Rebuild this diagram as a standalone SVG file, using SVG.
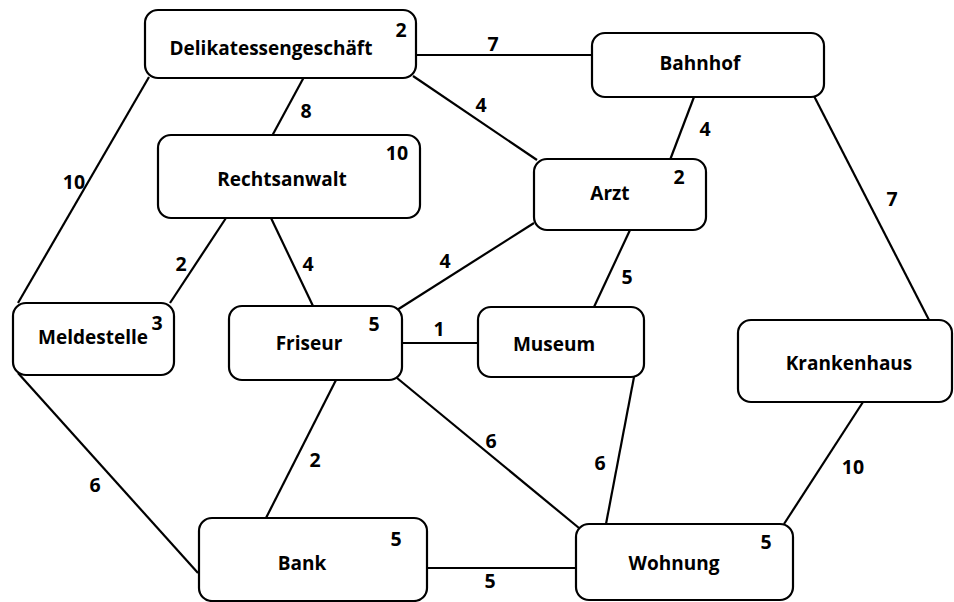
<svg xmlns="http://www.w3.org/2000/svg" width="954" height="602" viewBox="0 0 954 602">
<style>
.box{fill:#fff;stroke:#000;stroke-width:2.2}
.lbl{font-family:"Open Sans","Liberation Sans",sans-serif;font-weight:bold;font-size:19px;text-anchor:middle;dominant-baseline:central;fill:#000}
.num{font-family:"Open Sans","Liberation Sans",sans-serif;font-weight:bold;font-size:19.5px;text-anchor:middle;dominant-baseline:central;fill:#000}
#edges line{stroke:#000;stroke-width:2.2}
</style>
<rect width="954" height="602" fill="#fff"/>
<g id="edges">
<line x1="416" y1="55" x2="592" y2="55"/>
<line x1="413" y1="76" x2="537" y2="160"/>
<line x1="304" y1="77" x2="272" y2="136"/>
<line x1="149" y1="77" x2="18" y2="303"/>
<line x1="694" y1="97" x2="670" y2="160"/>
<line x1="814" y1="96" x2="929" y2="320"/>
<line x1="630" y1="230" x2="594" y2="307"/>
<line x1="534" y1="223" x2="397" y2="310"/>
<line x1="226" y1="218" x2="170" y2="303"/>
<line x1="271" y1="218" x2="313" y2="306"/>
<line x1="402" y1="343" x2="478" y2="343"/>
<line x1="397" y1="378" x2="579" y2="528"/>
<line x1="336" y1="380" x2="266" y2="518"/>
<line x1="18" y1="373" x2="198" y2="573"/>
<line x1="634" y1="377" x2="606" y2="524"/>
<line x1="863" y1="402" x2="784" y2="524"/>
<line x1="427" y1="568" x2="576" y2="568"/>
<text class="num" x="493" y="43">7</text>
<text class="num" x="481" y="104">4</text>
<text class="num" x="306" y="110">8</text>
<text class="num" x="74" y="181">10</text>
<text class="num" x="705" y="128">4</text>
<text class="num" x="892" y="198">7</text>
<text class="num" x="627" y="276">5</text>
<text class="num" x="445" y="260">4</text>
<text class="num" x="181" y="263">2</text>
<text class="num" x="308" y="263">4</text>
<text class="num" x="439" y="328">1</text>
<text class="num" x="491" y="440">6</text>
<text class="num" x="315" y="459">2</text>
<text class="num" x="95" y="484">6</text>
<text class="num" x="600" y="462">6</text>
<text class="num" x="853" y="466">10</text>
<text class="num" x="490" y="580">5</text>
</g>
<g id="deli">
<rect class="box" x="145" y="10" width="271" height="68" rx="13"/>
<text class="lbl" x="271" y="48">Delikatessengeschäft</text>
<text class="num" x="401" y="29">2</text>
</g>
<g id="bahnhof">
<rect class="box" x="592" y="33" width="232" height="64" rx="13"/>
<text class="lbl" x="700" y="63">Bahnhof</text>
</g>
<g id="rechtsanwalt">
<rect class="box" x="158" y="135" width="262" height="83" rx="13"/>
<text class="lbl" x="282" y="179">Rechtsanwalt</text>
<text class="num" x="397" y="152">10</text>
</g>
<g id="arzt">
<rect class="box" x="534" y="159" width="172" height="71" rx="13"/>
<text class="lbl" x="610" y="193">Arzt</text>
<text class="num" x="679" y="176">2</text>
</g>
<g id="meldestelle">
<rect class="box" x="13" y="303" width="161" height="72" rx="13"/>
<text class="lbl" x="93" y="337">Meldestelle</text>
<text class="num" x="157" y="322">3</text>
</g>
<g id="friseur">
<rect class="box" x="229" y="306" width="173" height="74" rx="13"/>
<text class="lbl" x="309" y="343">Friseur</text>
<text class="num" x="374" y="323">5</text>
</g>
<g id="museum">
<rect class="box" x="478" y="307" width="166" height="70" rx="13"/>
<text class="lbl" x="554" y="344">Museum</text>
</g>
<g id="krankenhaus">
<rect class="box" x="738" y="320" width="214" height="82" rx="13"/>
<text class="lbl" x="849" y="363">Krankenhaus</text>
</g>
<g id="bank">
<rect class="box" x="199" y="518" width="228" height="83" rx="13"/>
<text class="lbl" x="302" y="563">Bank</text>
<text class="num" x="396" y="538">5</text>
</g>
<g id="wohnung">
<rect class="box" x="576" y="524" width="217" height="76" rx="13"/>
<text class="lbl" x="674" y="563">Wohnung</text>
<text class="num" x="766" y="541">5</text>
</g>
</svg>
